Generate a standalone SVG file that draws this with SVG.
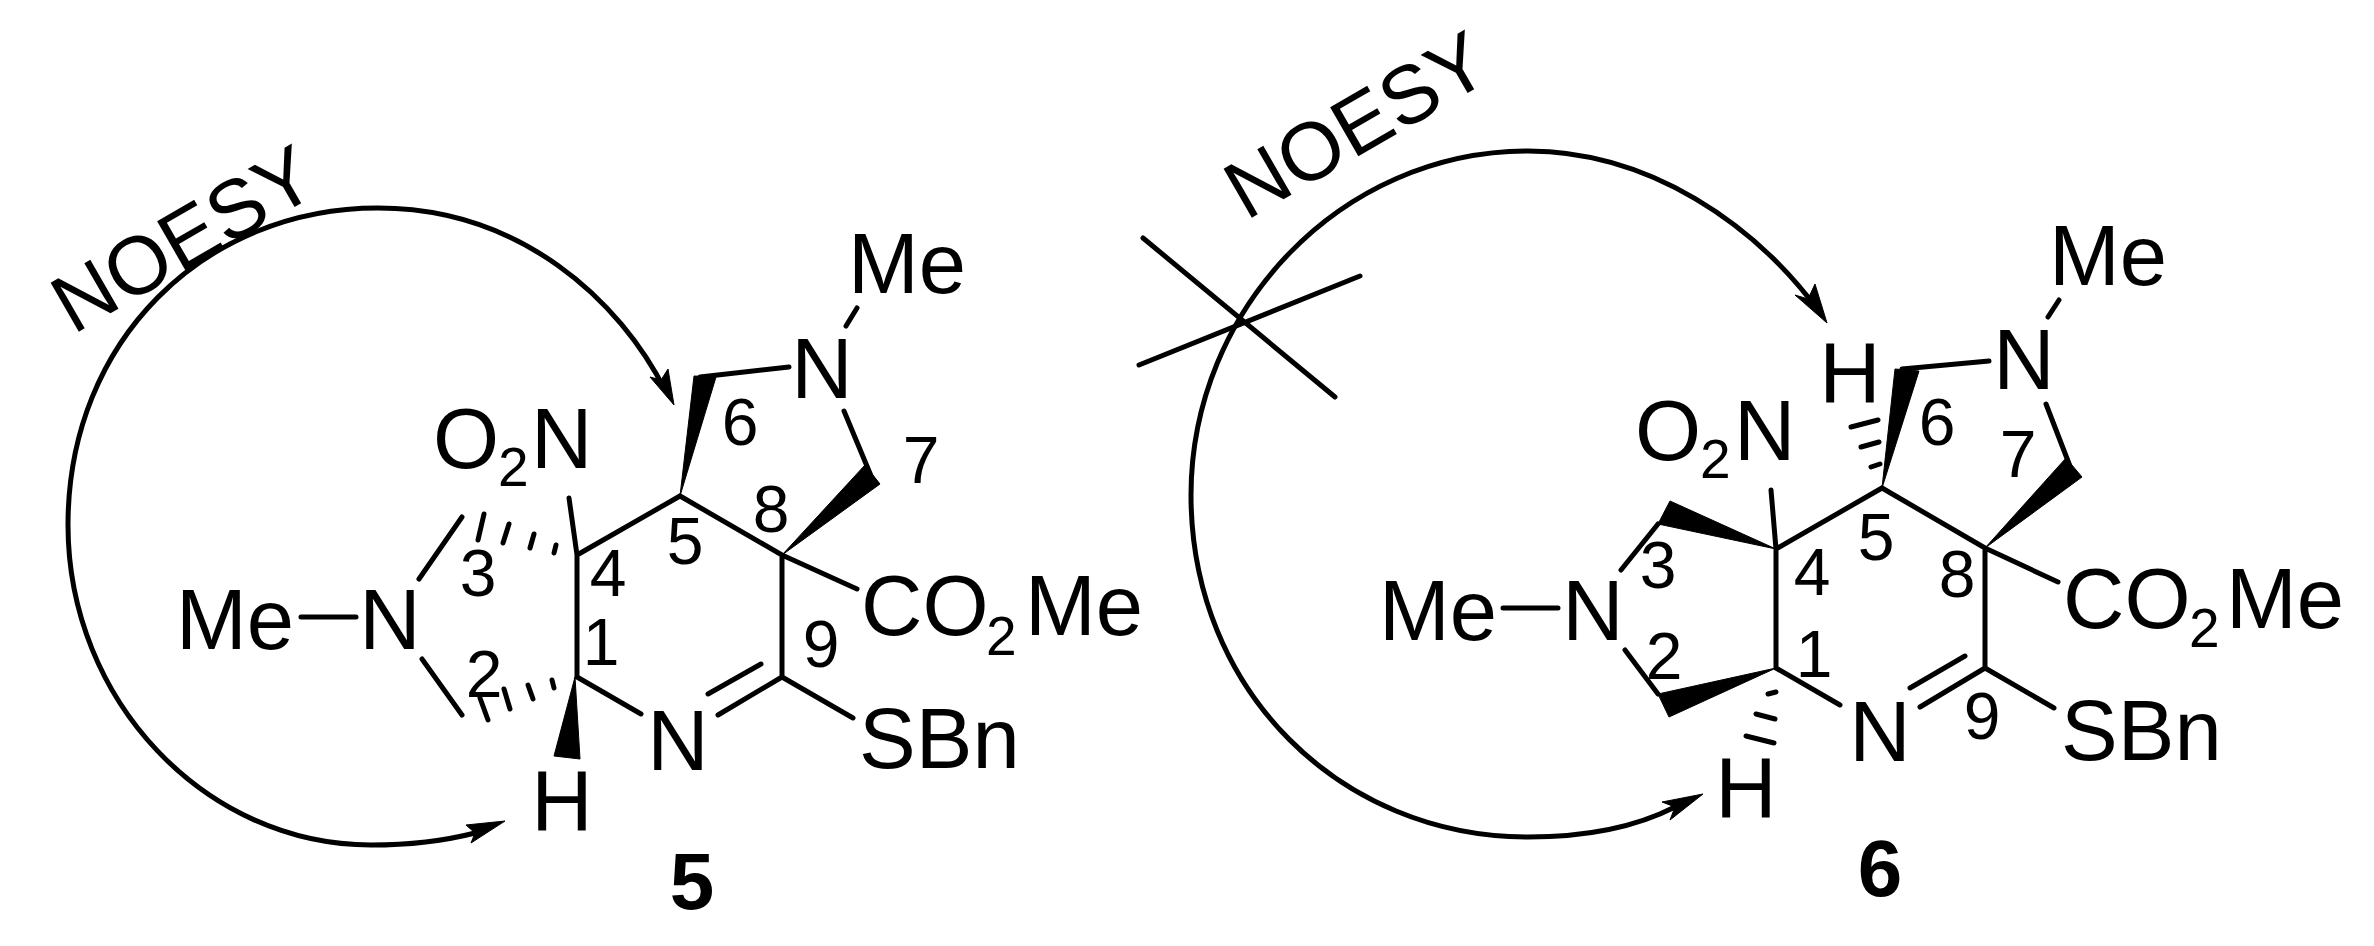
<svg xmlns="http://www.w3.org/2000/svg" width="2374" height="946" viewBox="0 0 2374 946">
<style>
text{font-family:"Liberation Sans",Arial,sans-serif;fill:#000}
.a{font-size:85px}.s{font-size:55px}.n{font-size:66px}.b{font-size:80px;font-weight:bold}.t{font-size:82px}
.m{text-anchor:middle}
.bond{fill:none;stroke:#000;stroke-width:5;stroke-linecap:round}
.arc{fill:none;stroke:#000;stroke-width:5}
polygon{fill:#000;stroke:#000;stroke-width:1}
</style>
<rect width="2374" height="946" fill="#fff"/>
<g id="compound-5">
<g id="connectors-5">
<path class="arc" d="M475 833C440 842 410 845 371 845C205 845 68 700 68 525C68 340 205 208 378 208C520 208 620 300 666 392"/>
<polygon points="674,405 650,377 661,380 668,369"/>
<polygon points="505,821 466,825 475,833 471,843"/>
<path class="bond" d="M577 555V677M577 555L680 496L782 555V677M782 677L718 715M761 664L708 694M577 677L641 714M782 677L853 718M782 555L857 589M577 555L569 498M700 377L789 367M846 326L857 308M844 411L874 483M419 579L462 517M422 659L462 715M301 617H356"/>
<path class="bond" d="M484 514L478 540M509 524L503 543M534 534L530 548M556 545L554 553M552 680L554 688M528 685L533 699M504 689L510 709M480 698L488 720"/>
<polygon points="680,496 694,376 716,377"/>
<polygon points="782,555 865,465 880,484"/>
<polygon points="575,677 554,756 580,759"/>
</g>
<g id="labels-5">
<text class="t" transform="translate(73 335) rotate(-30)">NOESY</text>
<text class="a" x="848" y="293">Me</text>
<text class="a m" x="822" y="398">N</text>
<text class="a" x="433" y="468">O</text><text class="s" x="498" y="486">2</text><text class="a" x="531" y="468">N</text>
<text class="a" x="176" y="649">Me</text>
<text class="a m" x="390" y="649">N</text>
<text class="a m" x="678" y="770">N</text>
<text class="a m" x="562" y="830">H</text>
<text class="a" x="861" y="635">CO</text><text class="s" x="986" y="655">2</text><text class="a" x="1025" y="635">Me</text>
<text class="a" x="859" y="768">SBn</text>
<text class="n m" x="740" y="445">6</text>
<text class="n m" x="921" y="483">7</text>
<text class="n m" x="771" y="532">8</text>
<text class="n m" x="685" y="564">5</text>
<text class="n m" x="608" y="596">4</text>
<text class="n m" x="478" y="596">3</text>
<text class="n m" x="601" y="665">1</text>
<text class="n m" x="821" y="667">9</text>
<text class="n m" x="484" y="697">2</text>
<text class="b m" x="692" y="909">5</text>
</g>
</g>
<g id="compound-6">
<g id="connectors-6">
<path class="arc" d="M1675 807C1630 830 1580 837 1528 837C1340 837 1191 690 1191 495C1191 310 1340 151 1528 151C1650 151 1755 225 1818 310"/>
<polygon points="1827,323 1795,295 1808,299 1815,284"/>
<polygon points="1703,794 1662,802 1675,807 1670,820"/>
<path class="bond" d="M1143 238L1335 397M1139 365L1360 276"/>
<path class="bond" d="M1776 549V668M1776 549L1882 488L1985 548V668M1985 668L1920 707M1965 656L1910 688M1776 668L1840 705M1985 668L2054 708M1985 548L2058 582M1776 549L1771 490M1902 369L1989 361M2048 317L2059 300M2046 404L2073 474M1658 524L1621 570M1658 694L1625 650M1503 608H1558"/>
<path class="bond" d="M1871 467L1880 464M1861 447L1879 442M1851 427L1878 420M1776 692L1768 694M1775 719L1756 714M1774 743L1746 736"/>
<polygon points="1882,488 1895,369 1919,371"/>
<polygon points="1985,548 2066,458 2082,477"/>
<polygon points="1776,549 1670,501 1658,524"/>
<polygon points="1776,668 1658,694 1669,717"/>
</g>
<g id="labels-6">
<text class="t" transform="translate(1246 221) rotate(-30)">NOESY</text>
<text class="a" x="2049" y="285">Me</text>
<text class="a m" x="2024" y="389">N</text>
<text class="a m" x="1850" y="402">H</text>
<text class="a" x="1635" y="460">O</text><text class="s" x="1700" y="478">2</text><text class="a" x="1734" y="460">N</text>
<text class="a" x="1379" y="640">Me</text>
<text class="a m" x="1593" y="640">N</text>
<text class="a m" x="1880" y="761">N</text>
<text class="a m" x="1746" y="817">H</text>
<text class="a" x="2063" y="628">CO</text><text class="s" x="2189" y="647">2</text><text class="a" x="2226" y="628">Me</text>
<text class="a" x="2061" y="760">SBn</text>
<text class="n m" x="1937" y="445">6</text>
<text class="n m" x="2018" y="477">7</text>
<text class="n m" x="1957" y="597">8</text>
<text class="n m" x="1876" y="560">5</text>
<text class="n m" x="1812" y="595">4</text>
<text class="n m" x="1658" y="588">3</text>
<text class="n m" x="1814" y="677">1</text>
<text class="n m" x="1982" y="739">9</text>
<text class="n m" x="1664" y="679">2</text>
<text class="b m" x="1880" y="896">6</text>
</g>
</g>
</svg>
